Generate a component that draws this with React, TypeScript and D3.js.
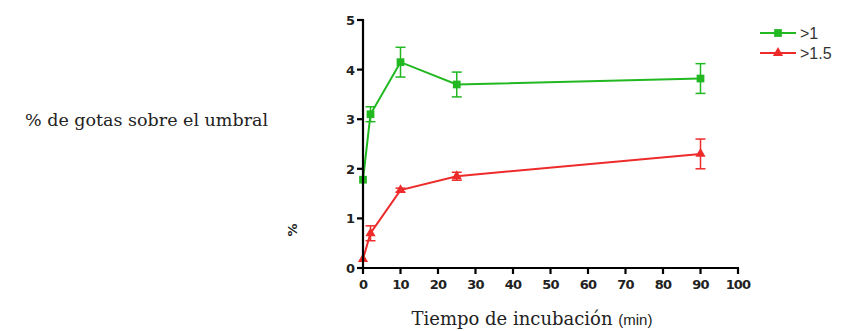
import React from 'react';
import { scaleLinear, line, symbol, symbolSquare, symbolTriangle } from 'd3';

const times = [0, 2, 10, 25, 90];
const seriesNames = ['>1', '>1.5'];
const greenMeans = [1.78, 3.1, 4.15, 3.7, 3.82];
const greenErrors = [0, 0.15, 0.3, 0.25, 0.3];
const redMeans = [0.18, 0.7, 1.57, 1.85, 2.3];
const redErrors = [0, 0.15, 0.04, 0.08, 0.3];
const xTicks = [0, 10, 20, 30, 40, 50, 60, 70, 80, 90, 100];
const yTicks = [0, 1, 2, 3, 4, 5];

const W = 845;
const H = 331;
const margin = { left: 363, top: 20, right: 107, bottom: 63 };

const sans = { fontFamily: 'DejaVu Sans, sans-serif', fontWeight: 700 } as const;
const serif = { fontFamily: 'DejaVu Serif, Liberation Serif, serif' } as const;

export default function App() {
  const x = scaleLinear().domain([0, 100]).range([margin.left, W - margin.right]);
  const y = scaleLinear().domain([0, 5]).range([H - margin.bottom, margin.top]);

  const series = [
    { name: seriesNames[0], means: greenMeans, errs: greenErrors, color: '#21b821', shape: symbolSquare, size: 60 },
    { name: seriesNames[1], means: redMeans, errs: redErrors, color: '#ee2b2b', shape: symbolTriangle, size: 45 },
  ];

  const lineGen = line<number>()
    .x((_, i) => x(times[i]))
    .y((d) => y(d));

  return (
    <svg width={W} height={H} style={{ position: 'absolute', left: 0, top: 0 }}>
      <rect width={W} height={H} fill="#fff" />
      <text x={25} y={126} style={{ ...serif, fontSize: 17.5 }} fill="#222">
        % de gotas sobre el umbral
      </text>

      {series.map((s) => (
        <g key={s.name}>
          <path d={lineGen(s.means) || ''} fill="none" stroke={s.color} strokeWidth={2} />
          {s.means.map((m, i) =>
            s.errs[i] > 0 ? (
              <g key={i} stroke={s.color} strokeWidth={1.5}>
                <line x1={x(times[i])} x2={x(times[i])} y1={y(m - s.errs[i])} y2={y(m + s.errs[i])} />
                <line x1={x(times[i]) - 5} x2={x(times[i]) + 5} y1={y(m - s.errs[i])} y2={y(m - s.errs[i])} />
                <line x1={x(times[i]) - 5} x2={x(times[i]) + 5} y1={y(m + s.errs[i])} y2={y(m + s.errs[i])} />
              </g>
            ) : null
          )}
          {s.means.map((m, i) => (
            <path
              key={'p' + i}
              d={symbol().type(s.shape).size(s.size)() || ''}
              transform={`translate(${x(times[i])},${y(m)})`}
              fill={s.color}
            />
          ))}
        </g>
      ))}

      {/* axes */}
      <g stroke="#000" strokeWidth={2.2}>
        <line x1={x(0)} x2={x(0)} y1={y(5) - 1} y2={y(0) + 1} />
        <line x1={x(0) - 1} x2={x(100) + 1} y1={y(0)} y2={y(0)} />
        {yTicks.map((t) => (
          <line key={'yt' + t} x1={x(0) - 6} x2={x(0)} y1={y(t)} y2={y(t)} />
        ))}
        {xTicks.map((t) => (
          <line key={'xt' + t} x1={x(t)} x2={x(t)} y1={y(0)} y2={y(0) + 6} />
        ))}
      </g>
      {yTicks.map((t) => (
        <text key={'yl' + t} x={x(0) - 8} y={y(t) + 5} textAnchor="end" style={{ ...sans, fontSize: 13 }} fill="#222">
          {t}
        </text>
      ))}
      {xTicks.map((t) => (
        <text key={'xl' + t} x={x(t)} y={y(0) + 21} textAnchor="middle" style={{ ...sans, fontSize: 13, letterSpacing: -0.8 }} fill="#222">
          {t}
        </text>
      ))}

      <text transform={`translate(297,230) rotate(-90)`} textAnchor="middle" style={{ ...sans, fontSize: 13 }} fill="#222">
        %
      </text>
      <text x={532} y={325} textAnchor="middle" style={{ ...serif, fontSize: 18 }} fill="#222">
        Tiempo de incubación{' '}
        <tspan style={{ fontFamily: 'Liberation Sans, Arial, sans-serif', fontSize: 15 }}>(min)</tspan>
      </text>

      {/* legend */}
      {series.map((s, i) => (
        <g key={'lg' + i} transform={`translate(760,${33 + i * 20})`}>
          <line x1={0} x2={36} y1={0} y2={0} stroke={s.color} strokeWidth={2} />
          <path d={symbol().type(s.shape).size(s.size)() || ''} transform="translate(18,0)" fill={s.color} />
          <text x={40} y={6} style={{ fontFamily: 'Liberation Sans, Arial, sans-serif', fontSize: 16 }} fill="#333">
            {s.name}
          </text>
        </g>
      ))}
    </svg>
  );
}
